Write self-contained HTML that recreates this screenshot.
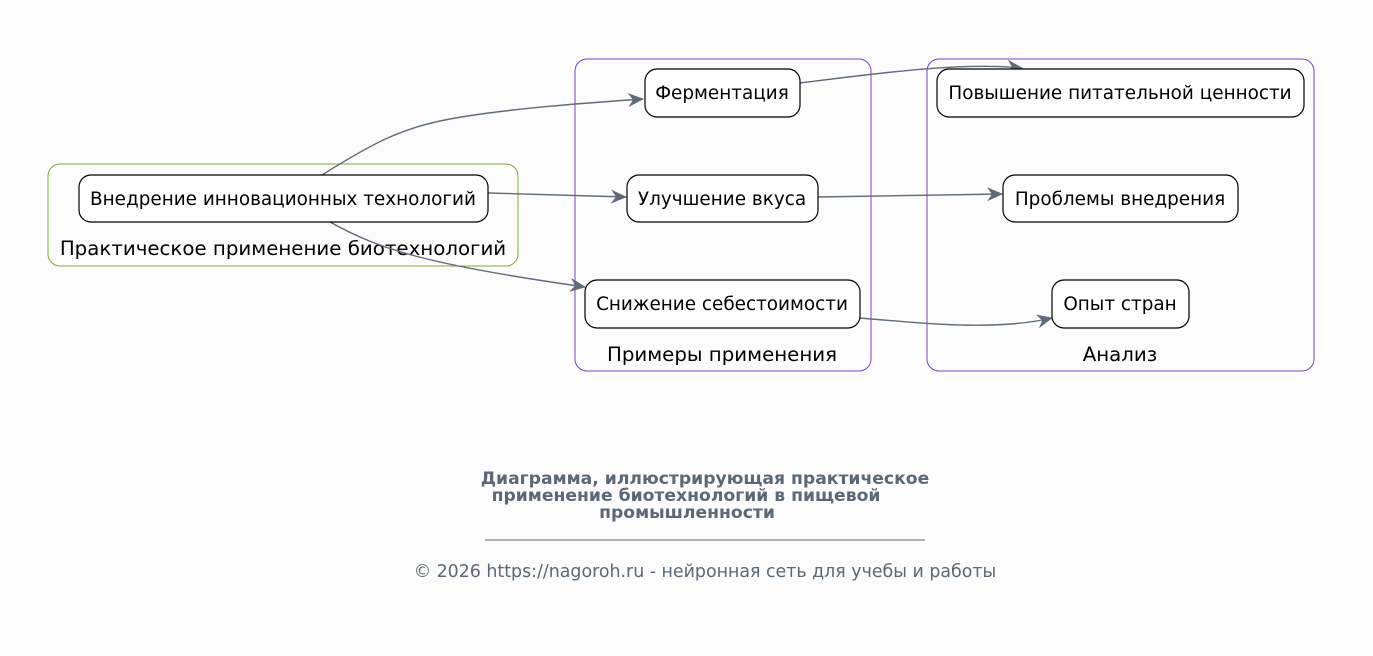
<!DOCTYPE html>
<html><head><meta charset="utf-8"><style>
html,body{margin:0;padding:0;background:#fcfcfc;}
svg{display:block;font-family:"DejaVu Sans","Liberation Sans",sans-serif;}
</style></head><body>
<svg width="1373" height="656" viewBox="0 0 1373 656" xmlns="http://www.w3.org/2000/svg">
<defs>
<marker id="a" viewBox="0 0 16 14" refX="15" refY="7" markerWidth="16" markerHeight="14" markerUnits="userSpaceOnUse" orient="auto">
<path d="M0,0 L16,7 L0,14 L5,7 Z" fill="#5f6b7a"/>
</marker>
</defs>
<rect width="1373" height="656" fill="#fcfcfc"/>
<rect x="48" y="164" width="470" height="102" rx="12" fill="none" stroke="#7cad2f" stroke-width="1"/>
<rect x="575" y="59" width="296" height="312" rx="12" fill="none" stroke="#7b3fcc" stroke-width="1"/>
<rect x="927" y="59" width="387" height="312" rx="12" fill="none" stroke="#7b3fcc" stroke-width="1"/>
<g font-size="19.8" fill="#000" text-anchor="middle">
<text x="283" y="255">Практическое применение биотехнологий</text>
<text x="722" y="361">Примеры применения</text>
<text x="1120" y="361">Анализ</text>
</g>
<g fill="none" stroke="#5f6b7a" stroke-width="1.4" marker-end="url(#a)">
<path d="M322,175 C370,145 400,128 450,119 C510,108 600,102 643,99"/>
<path d="M488,193 L626,197"/>
<path d="M330,222 C380,250 430,265 585,287"/>
<path d="M800,83 C880,73 960,62 1022,68"/>
<path d="M818,197 L1002,194"/>
<path d="M860,318 C940,325 1000,330 1052,318"/>
</g>
<g fill="#fff" stroke="#000" stroke-width="1.2">
<rect x="79" y="175" width="409" height="47" rx="12"/>
<rect x="645" y="69" width="155" height="48" rx="12"/>
<rect x="627" y="175" width="191" height="47" rx="12"/>
<rect x="585" y="280" width="275" height="48" rx="12"/>
<rect x="937" y="69" width="367" height="48" rx="12"/>
<rect x="1003" y="175" width="235" height="47" rx="12"/>
<rect x="1052" y="280" width="137" height="48" rx="12"/>
</g>
<g font-size="18.4" fill="#000" text-anchor="middle">
<text x="283" y="205">Внедрение инновационных технологий</text>
<text x="722" y="99">Ферментация</text>
<text x="722" y="205">Улучшение вкуса</text>
<text x="722" y="310">Снижение себестоимости</text>
<text x="1120" y="99">Повышение питательной ценности</text>
<text x="1120" y="205">Проблемы внедрения</text>
<text x="1120" y="310">Опыт стран</text>
</g>
<g font-size="17.2" font-weight="bold" fill="#5a6878" text-anchor="middle">
<text x="705" y="484">Диаграмма, иллюстрирующая практическое</text>
<text x="686" y="501">применение биотехнологий в пищевой</text>
<text x="687" y="518">промышленности</text>
</g>
<line x1="485" y1="540" x2="925" y2="540" stroke="#5a6878" stroke-width="1"/>
<text x="705" y="577" font-size="17.4" fill="#5a6878" text-anchor="middle">© 2026 https://nagoroh.ru - нейронная сеть для учебы и работы</text>
</svg>
</body></html>
